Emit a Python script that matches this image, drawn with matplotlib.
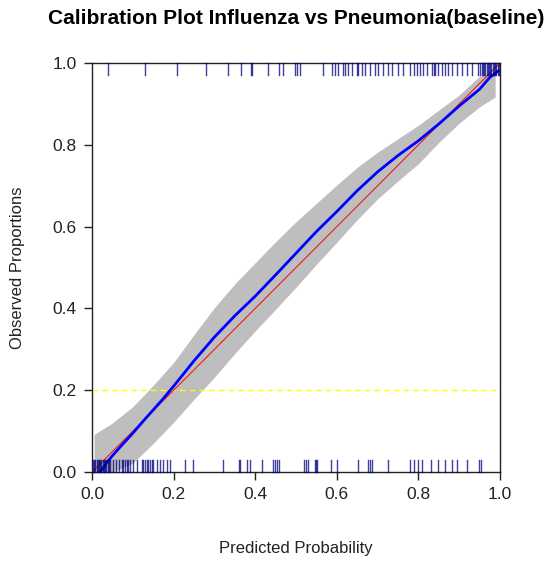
import numpy as np
import matplotlib
matplotlib.use("Agg")
import matplotlib.pyplot as plt

plt.rcParams['font.family'] = ['Liberation Sans', 'DejaVu Sans']

# smoothed calibration curve
curve_x = [0.02, 0.035, 0.05, 0.075, 0.1, 0.125, 0.15, 0.175, 0.2, 0.25, 0.3, 0.35,
           0.4, 0.45, 0.5, 0.55, 0.6, 0.65, 0.7, 0.75, 0.8, 0.85, 0.9, 0.95,
           0.975, 0.995]
curve_y = [0.0, 0.022, 0.040, 0.068, 0.095, 0.124, 0.152, 0.180, 0.210, 0.272,
           0.330, 0.382, 0.430, 0.482, 0.535, 0.588, 0.637, 0.688, 0.734, 0.774,
           0.810, 0.851, 0.895, 0.936, 0.965, 0.980]

# confidence band
band_x = [0.005, 0.05, 0.1, 0.15, 0.2, 0.25, 0.3, 0.35, 0.4, 0.45, 0.5, 0.55,
          0.6, 0.65, 0.7, 0.75, 0.8, 0.85, 0.9, 0.95, 0.988]
band_hi = [0.092, 0.120, 0.160, 0.212, 0.268, 0.336, 0.402, 0.460, 0.512, 0.563,
           0.612, 0.657, 0.702, 0.745, 0.782, 0.815, 0.848, 0.885, 0.922, 0.968,
           0.975]
band_lo = [0.0, 0.0, 0.022, 0.070, 0.122, 0.178, 0.232, 0.290, 0.345, 0.398,
           0.452, 0.508, 0.562, 0.617, 0.668, 0.712, 0.754, 0.806, 0.853, 0.893,
           0.917]

# rug of cases (observed = 1) along the top
rug_top = [0.040, 0.130, 0.209, 0.279, 0.332, 0.364, 0.389, 0.392, 0.432, 0.458,
           0.469, 0.498, 0.503, 0.510, 0.567, 0.587, 0.596, 0.604, 0.616, 0.620,
           0.628, 0.637, 0.649, 0.653, 0.661, 0.669, 0.681, 0.694, 0.702, 0.712,
           0.726, 0.735, 0.751, 0.763, 0.779, 0.788, 0.796, 0.804, 0.812, 0.820,
           0.833, 0.837, 0.841, 0.849, 0.857, 0.865, 0.873, 0.882, 0.894, 0.906,
           0.918, 0.931, 0.947, 0.952, 0.955, 0.958, 0.961, 0.964, 0.967, 0.970,
           0.973, 0.976, 0.979, 0.982, 0.985, 0.988, 0.991, 0.994, 0.997]

# rug of controls (observed = 0) along the bottom
rug_bottom = [0.002, 0.005, 0.008, 0.011, 0.014, 0.017, 0.020, 0.023, 0.026, 0.029,
              0.032, 0.035, 0.038, 0.041, 0.044, 0.052, 0.059, 0.065, 0.073, 0.077,
              0.081, 0.085, 0.089, 0.093, 0.101, 0.109, 0.122, 0.126, 0.130, 0.134,
              0.138, 0.142, 0.146, 0.150, 0.159, 0.167, 0.175, 0.183, 0.191, 0.228,
              0.248, 0.322, 0.359, 0.363, 0.379, 0.387, 0.416, 0.444, 0.449, 0.453,
              0.457, 0.520, 0.525, 0.530, 0.547, 0.549, 0.552, 0.586, 0.600, 0.651,
              0.676, 0.681, 0.685, 0.726, 0.779, 0.788, 0.800, 0.808, 0.831, 0.849,
              0.865, 0.882, 0.895, 0.918, 0.949, 0.953]

fig = plt.figure(figsize=(5.48, 5.63), dpi=100)
ax = fig.add_axes([0.168, 0.1616, 0.7445, 0.7265])

ax.fill_between(band_x, band_lo, band_hi, color='#bebebe', linewidth=0, zorder=1)
ax.axhline(0.2, color='yellow', linestyle=(0, (4, 3)), linewidth=1, zorder=2)
ax.plot([0, 1], [0, 1], color='red', linewidth=0.7, zorder=3)
ax.plot(curve_x, curve_y, color='blue', linewidth=2, zorder=4)

for v in rug_top:
    ax.plot([v, v], [0.97, 1.0], color='#000080', linewidth=1, alpha=0.75,
            zorder=5, clip_on=False)
for v in rug_bottom:
    ax.plot([v, v], [0.0, 0.03], color='#000080', linewidth=1, alpha=0.75,
            zorder=5, clip_on=False)

ax.set_xlim(0, 1)
ax.set_ylim(0, 1)
ticks = [0.0, 0.2, 0.4, 0.6, 0.8, 1.0]
ax.set_xticks(ticks)
ax.set_yticks(ticks)
ax.set_xticklabels(['0.0', '0.2', '0.4', '0.6', '0.8', '1.0'])
ax.set_yticklabels(['0.0', '0.2', '0.4', '0.6', '0.8', '1.0'])
ax.tick_params(direction='out', length=6, width=1, labelsize=12.5, pad=5, colors='#222222')
for s in ax.spines.values():
    s.set_color('#222222')
    s.set_linewidth(1)

ax.set_xlabel('Predicted Probability', fontsize=12, labelpad=28, color='#222222')
ax.set_ylabel('Observed Proportions', fontsize=12, labelpad=20, color='#222222')
ax.set_title('Calibration Plot Influenza vs Pneumonia(baseline)',
             fontsize=15, fontweight='bold', pad=28)

fig.savefig('out.png', dpi=100)
